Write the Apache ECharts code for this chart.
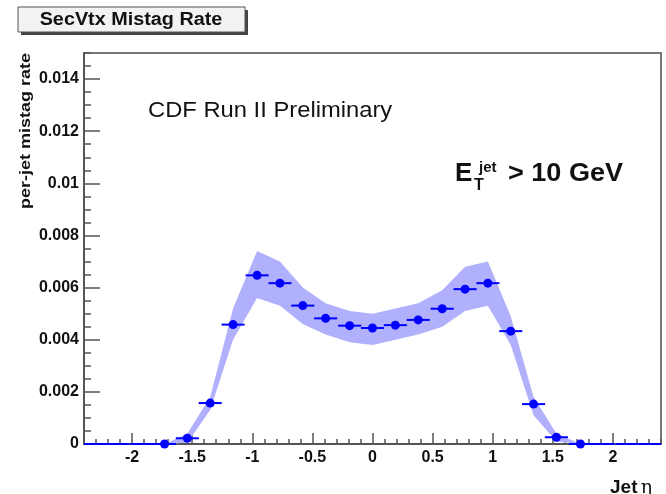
<!DOCTYPE html>
<html>
<head>
<meta charset="utf-8">
<script src="https://cdn.jsdelivr.net/npm/echarts@6/dist/echarts.min.js"></script>
<style>
  html, body { margin: 0; padding: 0; background: #fff; }
  #chart { width: 666px; height: 494px; }
</style>
</head>
<body>
<div id="chart"></div>
<script>
// bin centres in jet eta and measured mistag rate
var etaCenters = [-1.73, -1.54, -1.35, -1.16, -0.96, -0.77, -0.58, -0.39, -0.19, 0.0,
                  0.19, 0.38, 0.58, 0.77, 0.96, 1.15, 1.34, 1.53, 1.73];
var mistagRate = [0.0, 0.00022, 0.00157, 0.00458, 0.00647, 0.00617, 0.00531, 0.00482, 0.00454, 0.00445,
                  0.00456, 0.00476, 0.00519, 0.00594, 0.00617, 0.00433, 0.00153, 0.00026, 0.0];
// systematic band (upper / lower edge at each bin centre)
var bandUpper = [0.0, 0.0004, 0.0018, 0.0052, 0.0074, 0.0070, 0.0060, 0.0054, 0.0051, 0.0050,
                 0.0052, 0.0054, 0.0059, 0.0068, 0.0070, 0.0049, 0.0018, 0.0004, 0.0];
var bandLower = [0.0, 0.00005, 0.0013, 0.0040, 0.0056, 0.0053, 0.0046, 0.0042, 0.0039, 0.0038,
                 0.0040, 0.0042, 0.0045, 0.0051, 0.0053, 0.0038, 0.0011, 0.0001, 0.0];
// empty bins outside the acceptance
var emptyBins = [-2.31, -2.12, -1.92, 1.92, 2.12, 2.31];

var xTickLabels = [-2, -1.5, -1, -0.5, 0, 0.5, 1, 1.5, 2];
var yTickLabels = [0, 0.002, 0.004, 0.006, 0.008, 0.01, 0.012, 0.014];

var xMin = -2.4, xMax = 2.4;
var binHalfWidth = 0.096;

var xMinor = [];
for (var i = -24; i <= 24; i++) {
  if (i % 5 !== 0) xMinor.push(i / 10);
}
var yMinor = [];
for (var j = 1; j <= 30; j++) {
  if (j % 4 !== 0) yMinor.push(j * 0.0005);
}

var points = etaCenters.map(function (x, k) { return [x, mistagRate[k]]; });
var barData = points.concat(emptyBins.map(function (x) { return [x, 0]; }));

var boldFont = 'Liberation Sans, Arial, Helvetica, sans-serif';
var chart = echarts.init(document.getElementById('chart'));

chart.setOption({
  animation: false,
  grid: {
    left: 84, right: 5, top: 53, bottom: 50,
    show: true, borderColor: '#777', borderWidth: 2
  },
  xAxis: [{
    type: 'value', min: xMin, max: xMax, position: 'bottom',
    splitLine: { show: false },
    axisLine: { onZero: false, lineStyle: { color: '#555', width: 2 } },
    axisTick: { inside: true, length: 11, customValues: xTickLabels, lineStyle: { color: '#555', width: 1.5 } },
    axisLabel: {
      customValues: xTickLabels, margin: 6,
      fontFamily: boldFont, fontWeight: 'bold', fontSize: 16, color: '#111'
    }
  }, {
    type: 'value', min: xMin, max: xMax, position: 'bottom', offset: 0,
    splitLine: { show: false },
    axisLine: { show: false, onZero: false },
    axisLabel: { show: false },
    axisTick: { inside: true, length: 5, customValues: xMinor, lineStyle: { color: '#555', width: 1.5 } }
  }],
  yAxis: [{
    type: 'value', min: 0, max: 0.015, position: 'left',
    splitLine: { show: false },
    axisLine: { show: true, onZero: false, lineStyle: { color: '#555', width: 2 } },
    axisTick: { show: true, inside: true, length: 16, customValues: yTickLabels, lineStyle: { color: '#555', width: 1.5 } },
    axisLabel: {
      customValues: yTickLabels, margin: 5,
      fontFamily: boldFont, fontWeight: 'bold', fontSize: 16, color: '#111',
      formatter: function (v) { return v === 0 ? '0' : String(parseFloat(v.toFixed(4))); }
    }
  }, {
    type: 'value', min: 0, max: 0.015, position: 'left', offset: 0,
    splitLine: { show: false },
    axisLine: { show: false, onZero: false },
    axisLabel: { show: false },
    axisTick: { show: true, inside: true, length: 7, customValues: yMinor, lineStyle: { color: '#555', width: 1.5 } }
  }],
  series: [
    {
      // systematic band drawn as one polygon through the library's coordinate system
      type: 'custom', data: [0], silent: true, clip: true,
      renderItem: function (params, api) {
        var pts = [];
        etaCenters.forEach(function (x, k) { pts.push(api.coord([x, bandUpper[k]])); });
        for (var k = etaCenters.length - 1; k >= 0; k--) {
          pts.push(api.coord([etaCenters[k], bandLower[k]]));
        }
        return {
          type: 'polygon',
          shape: { points: pts },
          style: { fill: '#b0b0fc' }
        };
      }
    },
    {
      // horizontal error bars (bin widths), empty bins lie along the axis
      type: 'custom', data: barData, clip: false, silent: true, z: 5,
      renderItem: function (params, api) {
        var x = api.value(0), y = api.value(1);
        var a = api.coord([Math.max(xMin, x - binHalfWidth), y]);
        var b = api.coord([Math.min(xMax, x + binHalfWidth), y]);
        return {
          type: 'line',
          shape: { x1: a[0], y1: a[1], x2: b[0], y2: b[1] },
          style: { stroke: '#0000ff', lineWidth: 2 }
        };
      }
    },
    {
      type: 'scatter', data: points, symbol: 'circle', symbolSize: 9, z: 6,
      itemStyle: { color: '#0000ff', opacity: 1 }, silent: true
    }
  ],
  graphic: [
    { type: 'rect', shape: { x: 21, y: 10, width: 227, height: 25 }, style: { fill: '#444' } },
    { type: 'rect', shape: { x: 18, y: 7, width: 227, height: 25 }, style: { fill: '#f2f2f2', stroke: '#555', lineWidth: 1 } },
    {
      type: 'text', x: 131, y: 20, scaleX: 1.1,
      style: { text: 'SecVtx Mistag Rate', font: 'bold 18px ' + boldFont, fill: '#111', align: 'center', verticalAlign: 'middle' }
    },
    {
      type: 'text', x: 26, y: 131, rotation: Math.PI / 2, scaleX: 1.2,
      style: { text: 'per-jet mistag rate', font: 'bold 15px ' + boldFont, fill: '#111', align: 'center', verticalAlign: 'middle' }
    },
    {
      type: 'text', x: 148, y: 111, scaleX: 1.08,
      style: { text: 'CDF Run II Preliminary', font: '22px ' + boldFont, fill: '#111', align: 'left', verticalAlign: 'middle' }
    },
    {
      type: 'text', x: 455, y: 174,
      style: { text: 'E', font: 'bold 26px ' + boldFont, fill: '#111', align: 'left', verticalAlign: 'middle' }
    },
    {
      type: 'text', x: 474, y: 186,
      style: { text: 'T', font: 'bold 16px ' + boldFont, fill: '#111', align: 'left', verticalAlign: 'middle' }
    },
    {
      type: 'text', x: 479, y: 168,
      style: { text: 'jet', font: 'bold 15px ' + boldFont, fill: '#111', align: 'left', verticalAlign: 'middle' }
    },
    {
      type: 'text', x: 508, y: 174, scaleX: 1.04,
      style: { text: '> 10 GeV', font: 'bold 26px ' + boldFont, fill: '#111', align: 'left', verticalAlign: 'middle' }
    },
    {
      type: 'text', x: 610, y: 488,
      style: {
        text: '{b|Jet} {e|η}', align: 'left', verticalAlign: 'middle',
        rich: {
          b: { font: 'bold 19px ' + boldFont, fill: '#111' },
          e: { font: '19px DejaVu Serif, serif', fill: '#111' }
        }
      }
    }
  ]
});
</script>
</body>
</html>
